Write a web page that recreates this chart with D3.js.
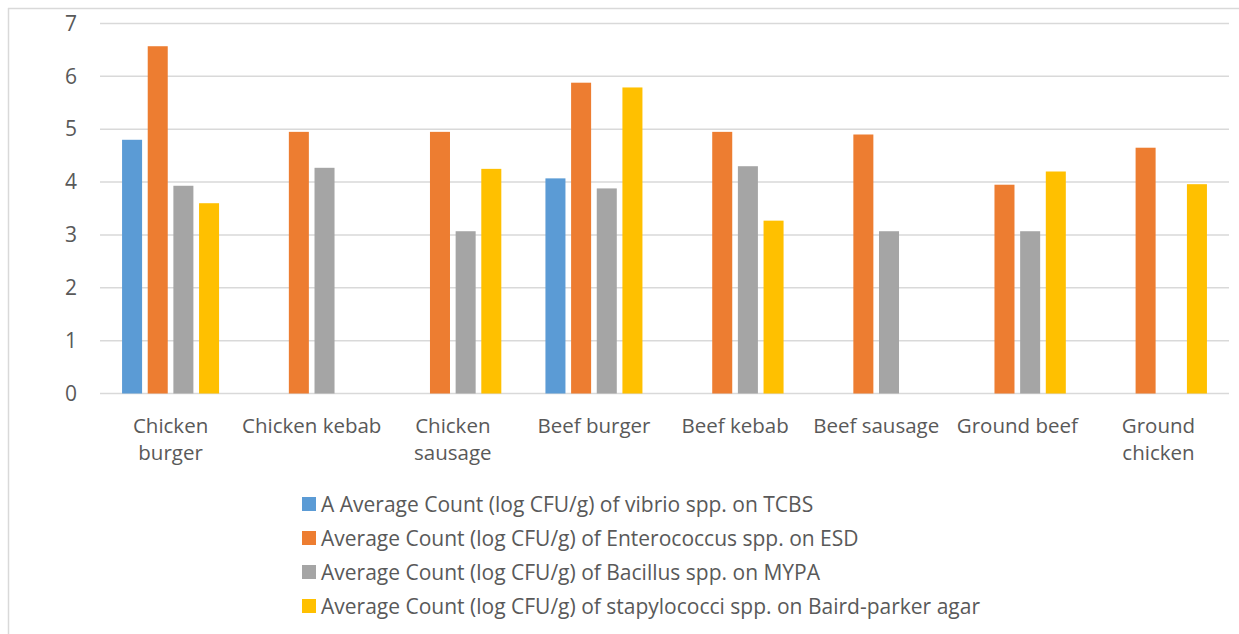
<!DOCTYPE html>
<html>
<head>
<meta charset="utf-8">
<script src="https://cdn.jsdelivr.net/npm/d3@7"></script>
<style>
  body { margin: 0; background: #fff; }
  text { font-family: "Open Sans", sans-serif; fill: #595959; }
</style>
</head>
<body>
<svg id="chart" width="1239" height="634"></svg>
<script>
const categories = ["Chicken burger", "Chicken kebab", "Chicken sausage", "Beef burger",
  "Beef kebab", "Beef sausage", "Ground beef", "Ground chicken"];
const tickLabels = [["Chicken", "burger"], ["Chicken kebab"], ["Chicken", "sausage"], ["Beef burger"],
  ["Beef kebab"], ["Beef sausage"], ["Ground beef"], ["Ground", "chicken"]];
const seriesNames = [
  "A Average Count (log CFU/g) of vibrio spp. on TCBS",
  "Average Count (log CFU/g) of Enterococcus spp. on ESD",
  "Average Count (log CFU/g) of Bacillus spp. on MYPA",
  "Average Count (log CFU/g) of stapylococci spp. on Baird-parker agar"
];
// null = no bar
const vibrio = [4.8, null, null, 4.07, null, null, null, null];
const enterococcus = [6.57, 4.95, 4.95, 5.88, 4.95, 4.9, 3.95, 4.65];
const bacillus = [3.93, 4.27, 3.07, 3.88, 4.3, 3.07, 3.07, null];
const staph = [3.6, null, 4.25, 5.79, 3.27, null, 4.2, 3.96];
const yTicks = [0, 1, 2, 3, 4, 5, 6, 7];

const seriesValues = [vibrio, enterococcus, bacillus, staph];
const colors = ["#5B9BD5", "#ED7D31", "#A5A5A5", "#FFC000"];

const svg = d3.select("#chart");

// outer frame (only top and left edges visible)
svg.append("line").attr("x1", 8).attr("x2", 1239).attr("y1", 8.5).attr("y2", 8.5)
  .attr("stroke", "#D9D9D9").attr("stroke-width", 1.5);
svg.append("line").attr("x1", 8.5).attr("x2", 8.5).attr("y1", 8).attr("y2", 634)
  .attr("stroke", "#D9D9D9").attr("stroke-width", 1.5);

const plotLeft = 100, plotRight = 1229;
const yScale = d3.scaleLinear().domain([0, 7]).range([393.5, 23.5]);

const x0 = d3.scaleBand().domain(categories).range([plotLeft, plotRight]).padding(0);
const groupPad = (x0.bandwidth() - 97) / 2;
const x1 = d3.scaleBand().domain(d3.range(4))
  .range([groupPad, x0.bandwidth() - groupPad]).paddingInner(0.22).paddingOuter(0);

// gridlines
svg.append("g").selectAll("line").data(yTicks).join("line")
  .attr("x1", plotLeft).attr("x2", plotRight)
  .attr("y1", d => yScale(d)).attr("y2", d => yScale(d))
  .attr("stroke", "#D9D9D9").attr("stroke-width", 1.5);

// y axis labels
const yAxis = d3.axisLeft(yScale).tickValues(yTicks).tickFormat(d3.format("d"))
  .tickSize(0).tickPadding(0);
const gy = svg.append("g").attr("transform", "translate(77,0)").call(yAxis);
gy.select(".domain").remove();
gy.selectAll("text").style("font-size", "21px").attr("fill", "#595959")
  .style("font-family", "'Open Sans', sans-serif");

// bars
const barData = [];
categories.forEach((c, ci) => {
  seriesValues.forEach((vals, si) => {
    if (vals[ci] != null) barData.push({ cat: c, s: si, v: vals[ci] });
  });
});
svg.append("g").selectAll("rect").data(barData).join("rect")
  .attr("x", d => x0(d.cat) + x1(d.s))
  .attr("y", d => yScale(d.v))
  .attr("width", x1.bandwidth())
  .attr("height", d => yScale(0) - yScale(d.v))
  .attr("fill", d => colors[d.s]);

// x labels
const gx = svg.append("g");
categories.forEach((c, ci) => {
  const t = gx.append("text")
    .attr("x", x0(c) + x0.bandwidth() / 2)
    .attr("y", 433)
    .attr("text-anchor", "middle")
    .style("font-size", "20.5px");
  tickLabels[ci].forEach((line, li) => {
    t.append("tspan").attr("x", x0(c) + x0.bandwidth() / 2)
      .attr("dy", li === 0 ? 0 : 27).text(line);
  });
});

// legend
const legend = svg.append("g").attr("transform", "translate(302,497)");
const items = legend.selectAll("g").data(seriesNames).join("g")
  .attr("transform", (d, i) => `translate(0,${i * 34})`);
items.append("rect").attr("width", 14).attr("height", 14)
  .attr("fill", (d, i) => colors[i]);
items.append("text").attr("x", 19).attr("y", 15)
  .style("font-size", "21px").text(d => d);
</script>
</body>
</html>
